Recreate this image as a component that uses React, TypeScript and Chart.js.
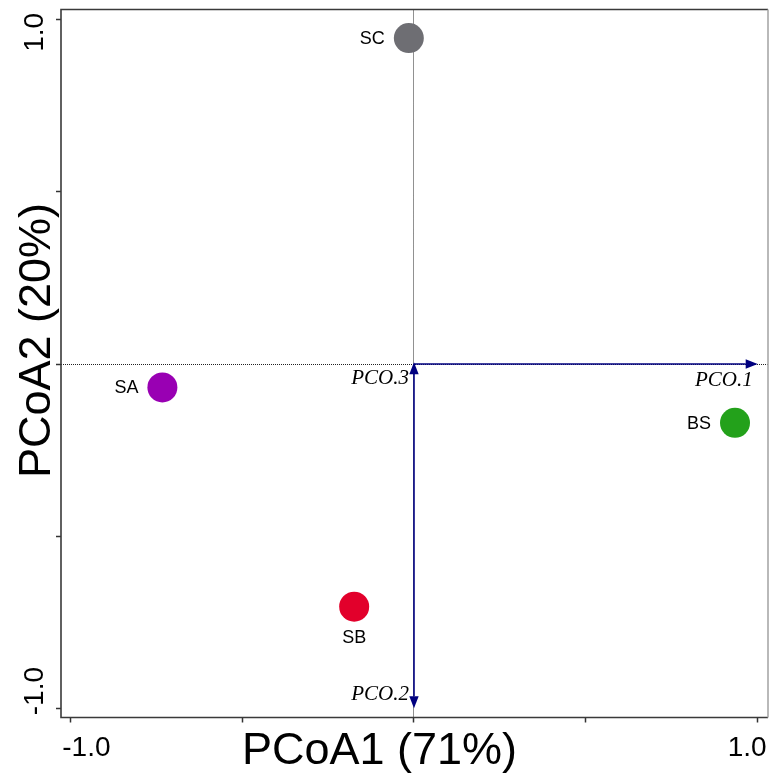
import React, { useEffect, useRef } from 'react';
import { Chart, registerables } from 'chart.js';

Chart.register(...registerables);

// ---- data ----
const sampleNames = ['SC', 'SA', 'BS', 'SB'];
const pcoa1 = [-0.015, -0.732, 0.934, -0.174];
const pcoa2 = [0.947, -0.068, -0.171, -0.705];
const sampleColors = ['#6e6e73', '#9900b3', '#23a11b', '#e2002b'];

const vectorNames = ['PCO.1', 'PCO.2', 'PCO.3'];
const vectorX = [1.0, 0.0, 0.0];
const vectorY = [0.0, -1.0, 0.005];

const axisTicks = [-1.0, -0.5, 0, 0.5, 1.0];
const xTickLabels = ['-1.0', '', '', '', '1.0'];
const yTickLabels = ['-1.0', '', '', '', '1.0'];
const xTitle = 'PCoA1 (71%)';
const yTitle = 'PCoA2 (20%)';
const axisMin = -1.027;
const axisMax = 1.03;

// ---- styles ----
const SANS = '"Liberation Sans", Arial, Helvetica, sans-serif';
const SERIF = '"Liberation Serif", "Times New Roman", Times, serif';
const ARROW_COLOR = '#000080';
const labelBelow = new Set(['SB']);

const crisp = (v: number) => Math.floor(v) + 0.5;

const biplotPlugin = {
  id: 'biplot',
  beforeDatasetsDraw(chart: any) {
    const { ctx, chartArea: a, scales } = chart;
    const x = scales.x, y = scales.y;
    const x0 = x.getPixelForValue(0);
    const y0 = y.getPixelForValue(0);
    ctx.save();
    // dotted zero lines
    ctx.strokeStyle = '#222222';
    ctx.lineWidth = 1;
    ctx.setLineDash([1, 1]);
    ctx.beginPath();
    ctx.moveTo(a.left, crisp(y0));
    ctx.lineTo(a.right, crisp(y0));
    ctx.moveTo(crisp(x0), a.top);
    ctx.lineTo(crisp(x0), a.bottom);
    ctx.stroke();
    ctx.setLineDash([]);

    // arrows
    vectorNames.forEach((name, i) => {
      const tx = x.getPixelForValue(vectorX[i]);
      const ty = y.getPixelForValue(vectorY[i]);
      const ang = Math.atan2(ty - y0, tx - x0);
      const len = 12;
      const half = 4.7;
      const c = Math.cos(ang), s = Math.sin(ang);
      const bx = tx - len * c, by = ty - len * s;
      ctx.strokeStyle = ARROW_COLOR;
      ctx.fillStyle = ARROW_COLOR;
      ctx.lineWidth = 1.6;
      ctx.beginPath();
      ctx.moveTo(x0, y0);
      ctx.lineTo(bx, by);
      ctx.stroke();
      ctx.beginPath();
      ctx.moveTo(tx, ty);
      ctx.lineTo(bx - half * s, by + half * c);
      ctx.lineTo(bx + half * s, by - half * c);
      ctx.closePath();
      ctx.fill();

      ctx.fillStyle = '#000000';
      ctx.font = `italic 21px ${SERIF}`;
      ctx.textAlign = 'right';
      ctx.textBaseline = 'alphabetic';
      const ly = vectorY[i] < 0 ? ty - 8 : ty + 22;
      ctx.fillText(name, tx - 5, ly);
    });
    ctx.restore();
  },
  afterDatasetsDraw(chart: any) {
    const { ctx, chartArea: a, scales } = chart;
    const x = scales.x, y = scales.y;
    ctx.save();

    // point labels
    const meta = chart.getDatasetMeta(0);
    ctx.font = `18px ${SANS}`;
    ctx.fillStyle = '#000000';
    ctx.textBaseline = 'alphabetic';
    sampleNames.forEach((name, i) => {
      const el = meta.data[i];
      if (!el) return;
      if (labelBelow.has(name)) {
        ctx.textAlign = 'center';
        ctx.fillText(name, el.x, el.y + 36);
      } else {
        ctx.textAlign = 'right';
        ctx.fillText(name, el.x - 24, el.y + 6);
      }
    });

    // frame
    ctx.lineWidth = 1.6;
    ctx.strokeStyle = '#3a3a3a';
    ctx.beginPath();
    ctx.moveTo(a.right, a.top);
    ctx.lineTo(a.left, a.top);
    ctx.lineTo(a.left, a.bottom);
    ctx.lineTo(a.right, a.bottom);
    ctx.stroke();
    ctx.strokeStyle = '#a8a8a8';
    ctx.beginPath();
    ctx.moveTo(a.right, a.top);
    ctx.lineTo(a.right, a.bottom);
    ctx.stroke();

    // tick labels
    ctx.font = `28px ${SANS}`;
    ctx.fillStyle = '#000000';
    const last = axisTicks.length - 1;
    axisTicks.forEach((v, i) => {
      const lab = xTickLabels[i];
      if (!lab) return;
      const px = x.getPixelForValue(v);
      if (i === 0) { ctx.textAlign = 'left'; ctx.fillText(lab, px - 8, a.bottom + 38); }
      else if (i === last) { ctx.textAlign = 'right'; ctx.fillText(lab, px + 9, a.bottom + 38); }
      else { ctx.textAlign = 'center'; ctx.fillText(lab, px, a.bottom + 38); }
    });
    axisTicks.forEach((v, i) => {
      const lab = yTickLabels[i];
      if (!lab) return;
      const py = y.getPixelForValue(v);
      ctx.save();
      ctx.translate(a.left - 18, py);
      ctx.rotate(-Math.PI / 2);
      if (i === 0) { ctx.textAlign = 'left'; ctx.fillText(lab, -7, 0); }
      else if (i === last) { ctx.textAlign = 'right'; ctx.fillText(lab, 7, 0); }
      else { ctx.textAlign = 'center'; ctx.fillText(lab, 0, 0); }
      ctx.restore();
    });

    // axis titles
    ctx.font = `45px ${SANS}`;
    ctx.textAlign = 'center';
    ctx.fillText(xTitle, (a.left + a.right) / 2 - 35, a.bottom + 46);
    ctx.save();
    ctx.translate(a.left - 11, (a.top + a.bottom) / 2 - 23);
    ctx.rotate(-Math.PI / 2);
    ctx.fillText(yTitle, 0, 0);
    ctx.restore();

    ctx.restore();
  },
};

export default function App() {
  const canvasRef = useRef<HTMLCanvasElement | null>(null);

  useEffect(() => {
    const canvas = canvasRef.current;
    if (!canvas) return;
    const tickSetter = (s: any) => {
      s.ticks = axisTicks.map((v) => ({ value: v }));
    };
    const gridOpts = {
      drawOnChartArea: false,
      drawTicks: true,
      tickLength: 5,
      tickColor: '#333333',
      tickWidth: 1.5,
    };
    const chart = new Chart(canvas, {
      type: 'scatter',
      data: {
        datasets: [
          {
            label: 'Samples',
            data: sampleNames.map((_, i) => ({ x: pcoa1[i], y: pcoa2[i] })),
            backgroundColor: sampleColors,
            borderWidth: 0,
            pointRadius: 15,
            pointHoverRadius: 15,
          },
        ],
      },
      options: {
        animation: false,
        responsive: false,
        devicePixelRatio: 1,
        events: [],
        layout: { autoPadding: false, padding: { top: 9.5, right: 1, left: 0, bottom: 0 } },
        plugins: {
          legend: { display: false },
          tooltip: { enabled: false },
        },
        scales: {
          x: {
            type: 'linear',
            position: 'bottom',
            min: axisMin,
            max: axisMax,
            afterBuildTicks: tickSetter,
            afterFit: (s: any) => { s.height = 56.5; },
            ticks: { display: false },
            grid: gridOpts,
            border: { display: false },
          },
          y: {
            type: 'linear',
            position: 'left',
            min: axisMin,
            max: axisMax,
            afterBuildTicks: tickSetter,
            afterFit: (s: any) => { s.width = 61; },
            ticks: { display: false },
            grid: gridOpts,
            border: { display: false },
          },
        },
      },
      plugins: [biplotPlugin],
    });
    return () => chart.destroy();
  }, []);

  return (
    <div style={{ position: 'absolute', left: 0, top: 0, width: 769, height: 774, background: '#ffffff' }}>
      <canvas ref={canvasRef} width={769} height={774} style={{ display: 'block' }} />
    </div>
  );
}
